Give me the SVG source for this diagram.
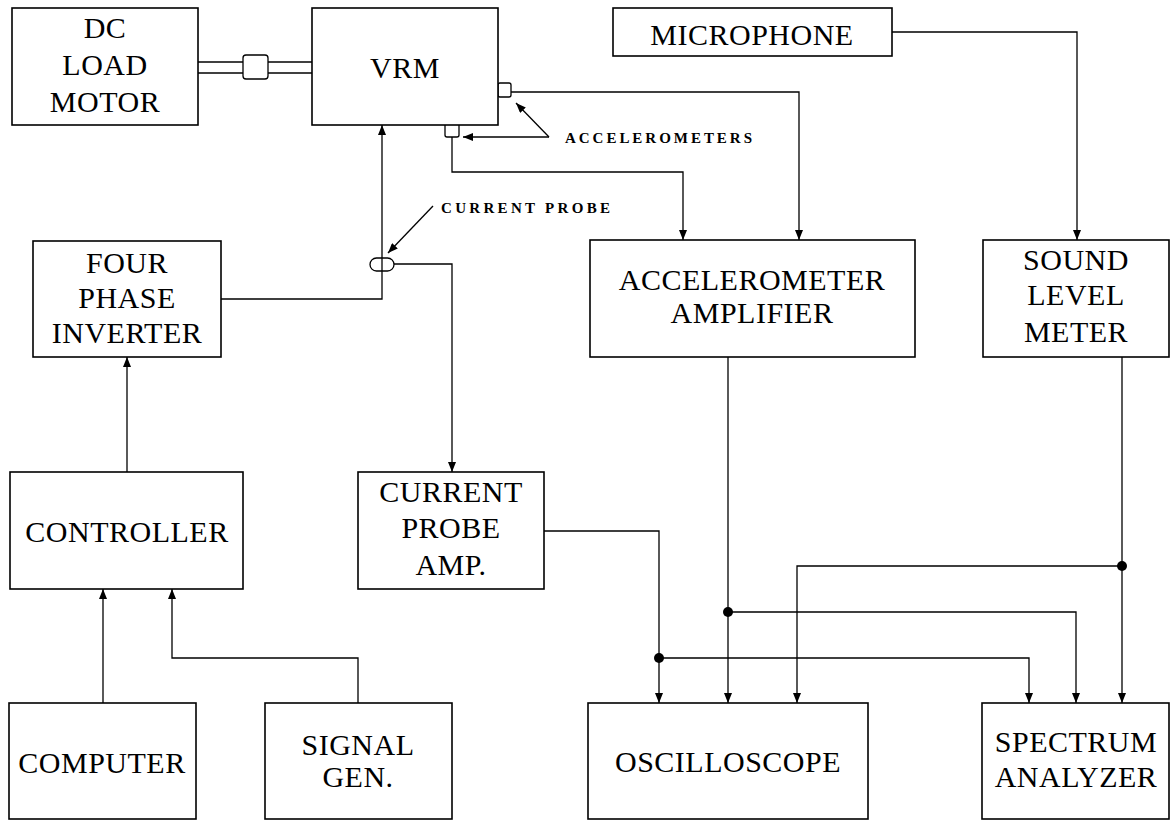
<svg xmlns="http://www.w3.org/2000/svg" width="1175" height="821" viewBox="0 0 1175 821">
<style>
.box{fill:#fff;stroke:#000;stroke-width:1.6}
.t{font-family:"Liberation Serif","Times New Roman",serif;font-size:30px;fill:#000;text-anchor:middle;letter-spacing:0.5px}
.s{font-family:"Liberation Serif","Times New Roman",serif;font-size:15px;font-weight:bold;fill:#000}
.w{fill:none;stroke:#000;stroke-width:1.3}
.a{fill:none;stroke:#000;stroke-width:1.3;marker-end:url(#ah)}
.dot{fill:#000}
</style>
<defs>
<marker id="ah" markerUnits="userSpaceOnUse" markerWidth="10" markerHeight="8" viewBox="0 0 10 8" refX="10" refY="4" orient="auto">
<path d="M0,0 L10,4 L0,8 Z" fill="#000"/>
</marker>
</defs>
<rect width="1175" height="821" fill="#fff"/>

<g id="connectors">
<line class="w" x1="198" y1="62" x2="243" y2="62"/>
<line class="w" x1="198" y1="73" x2="243" y2="73"/>
<line class="w" x1="268" y1="62" x2="312" y2="62"/>
<line class="w" x1="268" y1="73" x2="312" y2="73"/>
<rect x="243" y="55" width="25" height="24" rx="3" fill="#fff" stroke="#000" stroke-width="1.3"/>
<polyline class="a" points="221,299 382,299 382,125"/>
<rect x="370" y="258" width="24" height="13" rx="6.5" fill="#fff" stroke="#000" stroke-width="1.3"/>
<line class="w" x1="382" y1="258" x2="382" y2="271"/>
<polyline class="a" points="394,264 452,264 452,472"/>
<rect x="498" y="83" width="13" height="14" rx="2" fill="#fff" stroke="#000" stroke-width="1.3"/>
<rect x="445" y="123" width="14" height="14" rx="2" fill="#fff" stroke="#000" stroke-width="1.3"/>
<polyline class="a" points="511,92 799,92 799,240"/>
<polyline class="a" points="452,137 452,172 683,172 683,240"/>
<line class="a" x1="549" y1="137" x2="463" y2="137"/>
<line class="a" x1="549" y1="137" x2="516" y2="103"/>
<line class="a" x1="433" y1="206" x2="388" y2="253"/>
<polyline class="a" points="892,32 1077,32 1077,240"/>
<line class="a" x1="127" y1="472" x2="127" y2="357"/>
<line class="a" x1="103" y1="703" x2="103" y2="589"/>
<polyline class="a" points="358,703 358,658 172,658 172,589"/>
<polyline class="a" points="544,531 659,531 659,703"/>
<polyline class="a" points="659,658 1029,658 1029,703"/>
<circle class="dot" cx="659" cy="658" r="5"/>
<line class="a" x1="728" y1="357" x2="728" y2="703"/>
<polyline class="a" points="728,612 1076,612 1076,703"/>
<circle class="dot" cx="728" cy="612" r="5"/>
<line class="a" x1="1122" y1="357" x2="1122" y2="703"/>
<polyline class="a" points="1122,566 797,566 797,703"/>
<circle class="dot" cx="1122" cy="566" r="5"/>
</g>

<g id="labels">
<text class="s" x="565" y="143" textLength="187" lengthAdjust="spacing">ACCELEROMETERS</text>
<text class="s" x="441" y="213" textLength="169" lengthAdjust="spacing">CURRENT PROBE</text>
</g>

<g id="dc-load-motor">
<rect class="box" x="12" y="8" width="186" height="117"/>
<text class="t" x="105" y="38">DC</text>
<text class="t" x="105" y="75">LOAD</text>
<text class="t" x="105" y="112">MOTOR</text>
</g>
<g id="vrm">
<rect class="box" x="312" y="8" width="186" height="117"/>
<text class="t" x="405" y="78">VRM</text>
</g>
<g id="microphone">
<rect class="box" x="613" y="8" width="279" height="48"/>
<text class="t" x="752" y="45">MICROPHONE</text>
</g>
<g id="four-phase-inverter">
<rect class="box" x="33" y="241" width="188" height="116"/>
<text class="t" x="127" y="273">FOUR</text>
<text class="t" x="127" y="308">PHASE</text>
<text class="t" x="127" y="343">INVERTER</text>
</g>
<g id="accelerometer-amplifier">
<rect class="box" x="590" y="240" width="325" height="117"/>
<text class="t" x="752" y="290">ACCELEROMETER</text>
<text class="t" x="752" y="323">AMPLIFIER</text>
</g>
<g id="sound-level-meter">
<rect class="box" x="983" y="240" width="186" height="117"/>
<text class="t" x="1076" y="270">SOUND</text>
<text class="t" x="1076" y="305">LEVEL</text>
<text class="t" x="1076" y="342">METER</text>
</g>
<g id="controller">
<rect class="box" x="10" y="472" width="233" height="117"/>
<text class="t" x="127" y="542">CONTROLLER</text>
</g>
<g id="current-probe-amp">
<rect class="box" x="358" y="472" width="186" height="117"/>
<text class="t" x="451" y="502">CURRENT</text>
<text class="t" x="451" y="538">PROBE</text>
<text class="t" x="451" y="575">AMP.</text>
</g>
<g id="computer">
<rect class="box" x="9" y="703" width="187" height="116"/>
<text class="t" x="102" y="773">COMPUTER</text>
</g>
<g id="signal-gen">
<rect class="box" x="265" y="703" width="187" height="116"/>
<text class="t" x="358" y="755">SIGNAL</text>
<text class="t" x="358" y="787">GEN.</text>
</g>
<g id="oscilloscope">
<rect class="box" x="588" y="703" width="280" height="116"/>
<text class="t" x="728" y="772">OSCILLOSCOPE</text>
</g>
<g id="spectrum-analyzer">
<rect class="box" x="982" y="703" width="187" height="116"/>
<text class="t" x="1076" y="752">SPECTRUM</text>
<text class="t" x="1076" y="787">ANALYZER</text>
</g>
</svg>
